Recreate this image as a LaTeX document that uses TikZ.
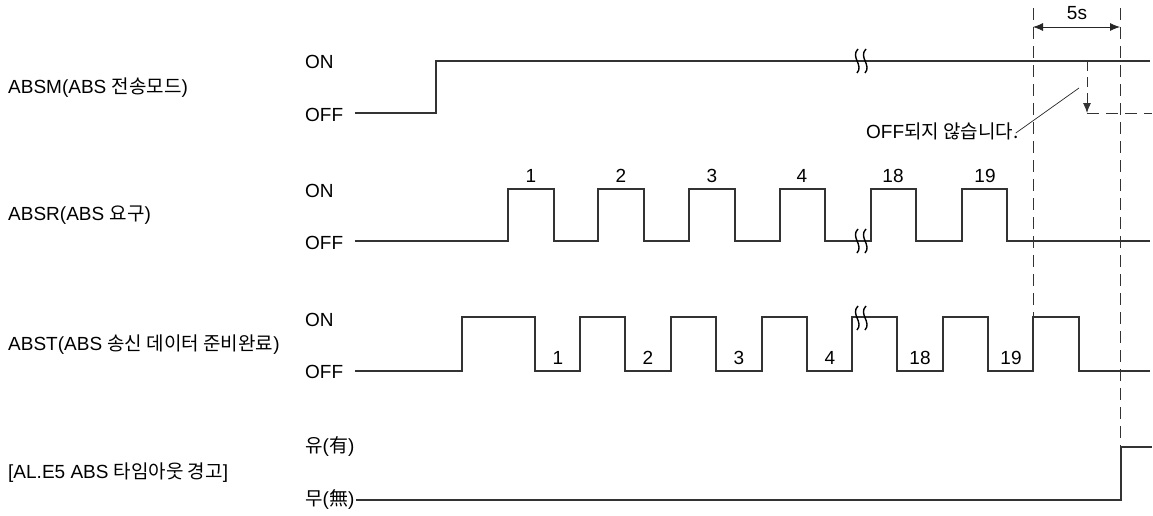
\documentclass[tikz,border=0pt]{standalone}
\usepackage{fontspec}
\setmainfont{Liberation Sans}
\newfontfamily\kr{Noto Sans CJK KR}
\usetikzlibrary{arrows.meta}
\begin{document}
\begin{tikzpicture}[x=1pt,y=-1pt,
  sig/.style={line width=1.1pt, draw=black!80, line join=miter},
  txt/.style={inner sep=0pt, font=\fontsize{19}{21}\selectfont},
  lbl/.style={txt, anchor=west},
  guide/.style={line width=0.9pt, draw=black!80, dash pattern=on 12pt off 7pt},
  thin/.style={line width=0.8pt, draw=black!85},
  brkmark/.style={line width=1.4pt, draw=black}]
\useasboundingbox (0,0) rectangle (1153,515);
\fill[white] (0,0) rectangle (1153,515);

% left labels
\node[lbl] (absm) at (8,88) {ABSM(ABS {\kr 전송모드})};
\node[lbl] (absr) at (8,215) {ABSR(ABS {\kr 요구})};
\node[lbl] (abst) at (8,345) {ABST(ABS {\kr 송신 데이터 준비완료})};
\node[lbl] (ale5) at (8,473) {[AL.E5 ABS {\kr 타임아웃 경고}]};

% level labels
\node[lbl] (on1) at (305,62) {ON};
\node[lbl] (off1) at (305,115) {OFF};
\node[lbl] (on2) at (305,191) {ON};
\node[lbl] (off2) at (305,243) {OFF};
\node[lbl] (on3) at (305,320) {ON};
\node[lbl] (off3) at (305,372) {OFF};
\node[lbl] (yu) at (305,446) {{\kr 유}({\kr 有})};
\node[lbl] (mu) at (305,499) {{\kr 무}({\kr 無})};

% ABSM
\draw[sig] (355,113) -- (436,113) -- (436,61) -- (1150,61);
% ABSR
\draw[sig] (355,241) -| (508,189) -| (554,241) -| (598,189) -| (644,241)
  -| (689,189) -| (735,241) -| (780,189) -| (825,241) -| (871,189)
  -| (916,241) -| (962,189) -| (1007,241) -- (1150,241);
% ABST
\draw[sig] (355,371) -| (462,317) -| (535,371) -| (580,317) -| (625,371)
  -| (671,317) -| (716,371) -| (762,317) -| (807,371) -| (852,317)
  -| (897,371) -| (943,317) -| (988,371) -| (1033,317) -| (1079,371)
  -- (1150,371);
% AL.E5
\coordinate (alstart) at ([xshift=1pt]mu.east |- 0,500);
\draw[sig] (alstart) -| (1121,447) -- (1152,447);

% pulse numbers
\foreach \x/\t in {531/1,621/2,712/3,802/4,893/18,985/19}
  \node[txt] (rn\t) at (\x,176) {\t};
\foreach \x/\t in {558/1,648/2,739/3,830/4,920/18,1011/19}
  \node[txt] (tn\t) at (\x,358) {\t};

% break marks
\foreach \bx/\by in {857/61,857/241,857/318}{
  \foreach \d in {0,8}{
    \draw[brkmark] (\bx+\d+1,\by-12) .. controls (\bx+\d-7,\by-4) and (\bx+\d+7,\by+4) .. (\bx+\d,\by+12);
  }
}

% guide lines
\coordinate (g1t) at (1033,8);
\coordinate (g1b) at (1033,318);
\coordinate (g2t) at (1120,8);
\coordinate (g2b) at (1120,452);
\draw[guide] (g1t) -- (g1b);
\draw[guide] (g2t) -- (g2b);

% 5s dimension
\coordinate (d1) at (1033,27);
\coordinate (d2) at (1120,27);
\draw[thin, {Latex[length=10pt,width=8pt]}-{Latex[length=10pt,width=8pt]}] (d1) -- (d2);
\node[txt] (five) at (1077,13) {5s};

% not-OFF indication
\coordinate (a1) at (1087,61);
\coordinate (a2) at (1087,113);
\coordinate (a3) at (1152,113);
\draw[guide, dash pattern=on 10pt off 6pt, -{Latex[length=10pt,width=8pt]}] (a1) -- (a2);
\draw[guide] (a2) -- (a3);
\node[lbl] (noff) at (866,131) {OFF{\kr 되지 않습니다.}};
\coordinate (lead) at (1079,88);
\draw[thin, line width=0.7pt] (noff.east) ++(-3,2) -- (lead);
\end{tikzpicture}
\end{document}
